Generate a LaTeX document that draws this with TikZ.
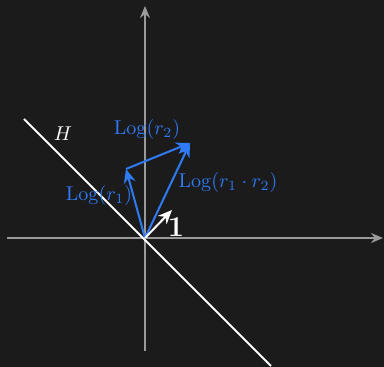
\documentclass[tikz,border=0pt]{standalone}
\usetikzlibrary{arrows.meta}
\definecolor{bg}{HTML}{1B1B1B}
\definecolor{axisgray}{HTML}{9A9A9A}
\definecolor{vblue}{HTML}{2F7BF5}
\begin{document}
\begin{tikzpicture}[x=0.5pt,y=-0.5pt,
  axis/.style={draw=axisgray,line width=0.75pt,-{Stealth[length=6pt,width=5pt]}},
  vec/.style={draw=vblue,line width=1pt,-{Stealth[length=7pt,width=6pt]}},
  unitvec/.style={draw=white,line width=1pt,-{Stealth[length=7pt,width=6pt]}},
  hline/.style={draw=white,line width=1pt},
  lbl/.style={text=vblue,inner sep=0pt}]
\fill[bg] (0,0) rectangle (384,367);
\useasboundingbox (0,0) rectangle (384,367);
\coordinate (O) at (145,238);
\coordinate (xl) at (7,238);
\coordinate (xr) at (383,238);
\coordinate (yb) at (145,351);
\coordinate (yt) at (145,6);
\coordinate (h1) at (24,119);
\coordinate (h2) at (271,366);
\coordinate (r1) at (126,169);
\coordinate (s) at (190,143);
\coordinate (u) at (172,210);
\draw[axis] (xl) -- (xr);
\draw[axis] (yb) -- (yt);
\draw[hline] (h1) -- (h2);
\draw[vec] (O) -- (r1);
\draw[vec] (r1) -- (s);
\draw[vec] (O) -- (s);
\draw[unitvec] (O) -- (u);
\node[text=white,inner sep=0pt] (H) at (63,134) {$H$};
\node[lbl] (L2) at (147,130) {$\mathrm{Log}(r_2)$};
\node[lbl] (L1) at (99,196) {$\mathrm{Log}(r_1)$};
\node[lbl] (L12) at (228,183) {$\mathrm{Log}(r_1\cdot r_2)$};
\node[text=white,inner sep=0pt] (one) at (176,227) {\Large$\mathbf{1}$};
\end{tikzpicture}
\end{document}
